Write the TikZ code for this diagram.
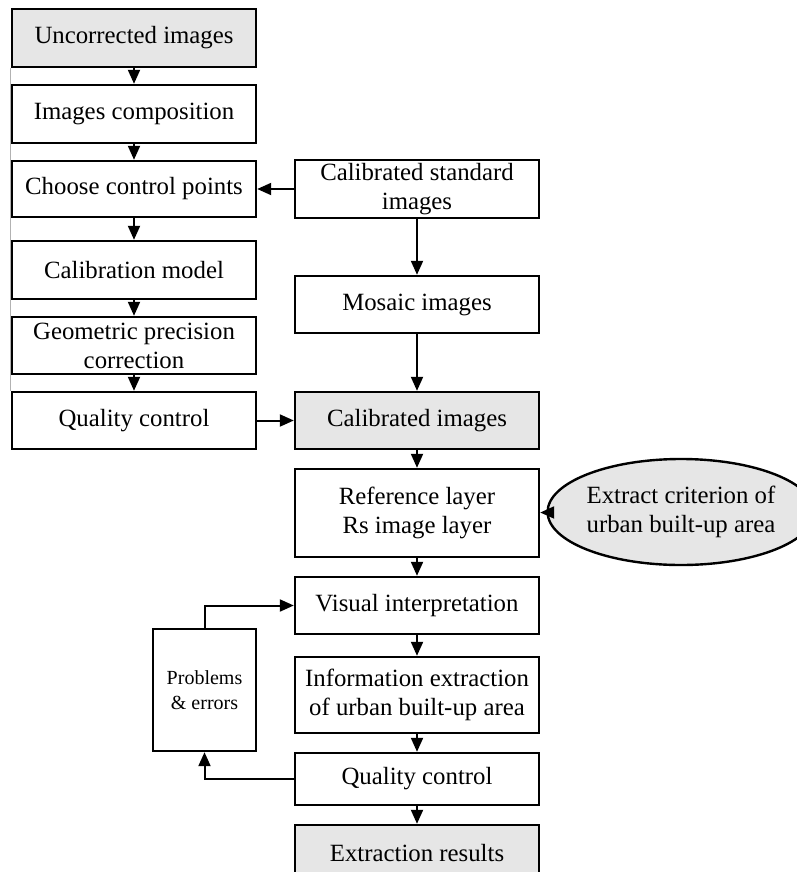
\documentclass[tikz,border=0pt]{standalone}
\usepackage{fontspec}
\setmainfont{Liberation Serif}
\usetikzlibrary{arrows.meta,shapes.geometric}
\definecolor{boxgray}{RGB}{230,230,230}
\tikzset{
    stepbox/.style={draw, line width=1.2pt, align=center, inner sep=0pt,
        minimum width=122pt, font=\fontsize{12.4}{14.5}\selectfont},
    greybox/.style={stepbox, fill=boxgray},
    flow/.style={-{Triangle[length=7pt,width=6pt]}, line width=1pt},
}
\begin{document}
\begin{tikzpicture}[x=0.5pt, y=-0.5pt]
            \useasboundingbox (0, 0) rectangle (797, 872);
            \clip (0, 0) rectangle (797, 872);
            \node[greybox, minimum height=29pt] (unc) at (134, 38) {Uncorrected images};
            \node[stepbox, minimum height=29pt] (comp) at (134, 114) {Images composition};
            \node[stepbox, minimum height=28pt] (ctrl) at (134, 189) {Choose control points};
            \node[stepbox, minimum height=29pt] (model) at (134, 270) {Calibration model};
            \node[stepbox, minimum height=28.5pt] (geo) at (134, 345.5) {Geometric precision\\correction};
            \node[stepbox, minimum height=28.5pt] (qcleft) at (134, 420.5) {Quality control};
            \draw[gray!60, line width=0.4pt] (unc.south west) -- (qcleft.north west);
            \node[stepbox, minimum height=29pt] (std) at (417, 189) {Calibrated standard\\images};
            \node[stepbox, minimum height=28.5pt] (mosaic) at (417, 304.5) {Mosaic images};
            \node[greybox, minimum height=28.5pt] (calib) at (417, 420.5) {Calibrated images};
            \node[stepbox, minimum height=44pt] (layer) at (417, 513) {Reference layer\\Rs image layer};
            \node[ellipse, draw, fill=boxgray, line width=1.2pt, inner sep=0pt, minimum width=116.5pt,
                minimum height=53pt, align=center, font=\fontsize{12.4}{14.5}\selectfont]
                (crit) at (681, 512) {Extract criterion of\\urban built-up area};
            \node[stepbox, minimum height=28.5pt] (visual) at (417, 605.5) {Visual interpretation};
            \node[stepbox, minimum height=38pt] (info) at (417, 695) {Information extraction\\of urban built-up area};
            \node[stepbox, minimum height=26pt] (qcright) at (417, 779) {Quality control};
            \node[greybox, minimum height=28pt] (result) at (417, 853) {Extraction results};
            \node[draw, line width=1.2pt, minimum width=51.5pt, minimum height=61pt, inner sep=0pt,
                align=center, font=\fontsize{10}{12.5}\selectfont] (probs) at (204.5, 690) {Problems\\\& errors};
            \draw[flow] (unc) -- (comp);
            \draw[flow] (comp) -- (ctrl);
            \draw[flow] (ctrl) -- (model);
            \draw[flow] (model) -- (geo);
            \draw[flow] (geo) -- (qcleft);
            \draw[flow] (std) -- (ctrl);
            \draw[flow] (std) -- (mosaic);
            \draw[flow] (mosaic) -- (calib);
            \draw[flow] (qcleft) -- (calib);
            \draw[flow] (calib) -- (layer);
            \draw[flow] (crit) -- (layer);
            \draw[flow] (layer) -- (visual);
            \draw[flow] (visual) -- (info);
            \draw[flow] (info) -- (qcright);
            \draw[flow] (qcright) -- (result);
            \draw[flow] (qcright.west) -| (probs.south);
            \draw[flow] (probs.north) |- (visual.west);
        \end{tikzpicture}
\end{document}
